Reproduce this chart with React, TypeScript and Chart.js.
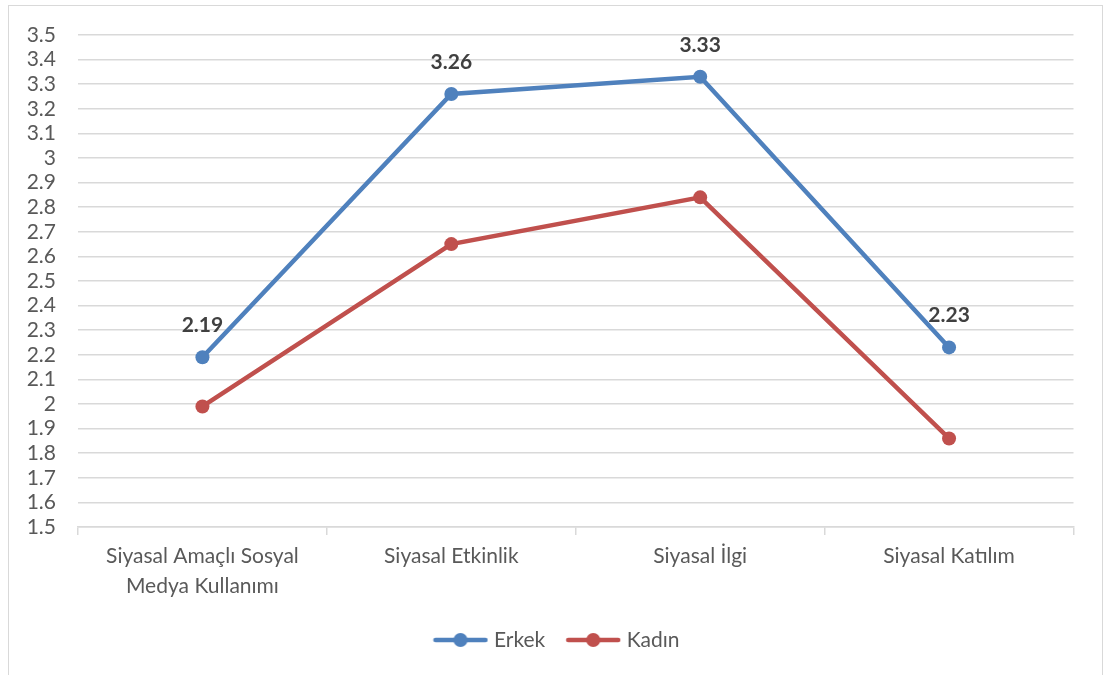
import React, { useEffect, useRef } from "react";
import { Chart, registerables } from "chart.js";

Chart.register(...registerables);

// ---- data ----
const categories: (string | string[])[] = [
  ["Siyasal Amaçlı Sosyal", "Medya Kullanımı"],
  "Siyasal Etkinlik",
  "Siyasal İlgi",
  "Siyasal Katılım",
];
const seriesNames = ["Erkek", "Kadın"];
const erkekValues = [2.19, 3.26, 3.33, 2.23];
const kadinValues = [1.99, 2.65, 2.84, 1.86];
const seriesColors = ["#4F81BD", "#C0504D"];
const labeledSeries = [0]; // only "Erkek" shows value labels
const yMin = 1.5;
const yMax = 3.5;
const yStep = 0.1;

const FONT = "Lato";

function legendIcon(color: string) {
  const c = document.createElement("canvas");
  c.width = 56;
  c.height = 18;
  const g = c.getContext("2d")!;
  g.strokeStyle = color;
  g.lineWidth = 4.5;
  g.lineCap = "round";
  g.beginPath();
  g.moveTo(3, 9);
  g.lineTo(53, 9);
  g.stroke();
  g.fillStyle = color;
  g.beginPath();
  g.arc(28, 9, 7, 0, Math.PI * 2);
  g.fill();
  return c;
}

const dataLabelPlugin = {
  id: "valueLabels",
  afterDatasetsDraw(chart: any) {
    const ctx = chart.ctx;
    labeledSeries.forEach((di) => {
      const meta = chart.getDatasetMeta(di);
      const ds = chart.data.datasets[di];
      meta.data.forEach((pt: any, i: number) => {
        ctx.save();
        ctx.font = `bold 21px ${FONT}`;
        ctx.fillStyle = "#404040";
        ctx.textAlign = "center";
        ctx.textBaseline = "middle";
        ctx.fillText(Number(ds.data[i]).toFixed(2), pt.x, pt.y - 32);
        ctx.restore();
      });
    });
  },
};

export default function App() {
  const ref = useRef<HTMLCanvasElement | null>(null);

  useEffect(() => {
    if (!ref.current) return;
    const icons = seriesColors.map((c) => legendIcon(c));
    const chart = new Chart(ref.current, {
      type: "line",
      data: {
        labels: categories,
        datasets: [erkekValues, kadinValues].map((vals, i) => ({
          label: seriesNames[i],
          data: vals,
          borderColor: seriesColors[i],
          backgroundColor: seriesColors[i],
          borderWidth: 4.5,
          pointRadius: 7,
          pointBorderWidth: 0,
          pointBackgroundColor: seriesColors[i],
          tension: 0,
          fill: false,
          yAxisID: "y",
        })),
      },
      options: {
        animation: false,
        responsive: true,
        maintainAspectRatio: false,
        layout: { padding: { top: 29, left: 6, right: 0, bottom: 23.5 } },
        scales: {
          x: {
            offset: true,
            grid: {
              offset: true,
              drawOnChartArea: false,
              drawTicks: true,
              tickLength: 8,
              color: "#d9d9d9",
              lineWidth: 1.5,
            },
            border: { display: true, color: "#d9d9d9", width: 1.5 },
            ticks: {
              color: "#595959",
              font: { family: FONT, size: 21, lineHeight: 1.43 },
              padding: 6,
              maxRotation: 0,
              autoSkip: false,
            },
            afterFit: (s: any) => {
              s.height = 77.5;
            },
          },
          y: {
            position: "left",
            min: yMin,
            max: yMax,
            grid: {
              color: "#d9d9d9",
              lineWidth: 1.5,
              drawTicks: true,
              tickLength: 22,
              tickColor: "rgba(0,0,0,0)",
            },
            border: { display: false },
            ticks: {
              stepSize: yStep,
              autoSkip: false,
              color: "#595959",
              font: { family: FONT, size: 21, lineHeight: 1 },
              padding: 0,
              callback: (v: any) => String(Math.round(Number(v) * 10) / 10),
            },
            afterFit: (s: any) => {
              s.width = 63;
            },
          },
          yRight: {
            position: "right",
            display: true,
            min: yMin,
            max: yMax,
            grid: { drawOnChartArea: false, drawTicks: false, display: false },
            border: { display: false },
            ticks: { display: false },
            afterFit: (s: any) => {
              s.width = 28.5;
            },
          },
        },
        plugins: {
          tooltip: { enabled: false },
          legend: {
            position: "bottom",
            labels: {
              usePointStyle: true,
              pointStyleWidth: 46,
              padding: 25,
              color: "#595959",
              font: { family: FONT, size: 21 },
              generateLabels: (ch: any) => {
                const items = (Chart.defaults.plugins.legend.labels as any).generateLabels(ch);
                return items.map((it: any, i: number) => ({
                  ...it,
                  pointStyle: icons[i],
                  rotation: 0,
                }));
              },
            },
          },
        },
      },
      plugins: [dataLabelPlugin],
    });
    return () => chart.destroy();
  }, []);

  return (
    <div
      style={{
        position: "absolute",
        left: 8,
        top: 5,
        width: 1095,
        height: 680,
        border: "1px solid #d9d9d9",
        boxSizing: "border-box",
        background: "#fff",
      }}
    >
      <canvas ref={ref} />
    </div>
  );
}
